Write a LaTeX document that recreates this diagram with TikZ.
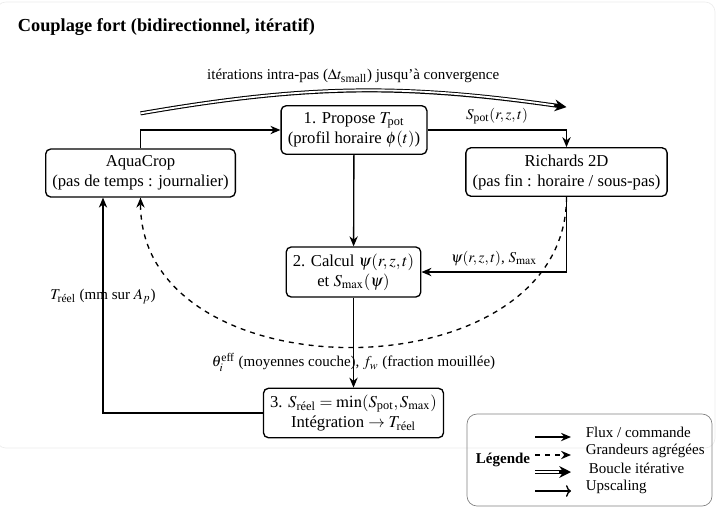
\documentclass[tikz,border=0pt]{standalone}
\usepackage{amsmath}
\usepackage{mathptmx}
\usepackage{fontspec}
\setmainfont{Liberation Serif}
\usetikzlibrary{arrows.meta, positioning}
\tikzset{
box/.style={draw, thick, rounded corners=3pt, align=center, inner sep=4pt}, % the two models and the three steps
lbl/.style={font=\small}, % text on the connectors and in the legend
flux/.style={thick, -{Stealth[length=6pt,width=5pt]}}, % plain flow / command
agg/.style={thick, dashed, -{Stealth[length=6pt,width=5pt]}}, % aggregated quantities
boucle/.style={line width=2.4pt, -{Stealth[length=7pt,width=7pt]}, postaction={draw=white, line width=1.1pt, -, shorten >=7.5pt}}, % iterative loop: a wide line with a white core looks double
upsc/.style={thick, -{To[length=3pt,width=7pt]}}, % upscaling
}

\begin{document}
\begin{tikzpicture}[x=0.6pt, y=-0.6pt]
    %% page size and the light frame round the figure
    \useasboundingbox (0,0) rectangle (719,511);
    \draw[gray!15, rounded corners=6pt] (-4,2) rectangle (715,448);
    \node[anchor=west, font=\fontsize{11}{13}\selectfont\bfseries] (titre) at (12,27) {Couplage fort (bidirectionnel, itératif)};

    %% the models and the steps
    \node[box] (aqua) at (140.5,173) {AquaCrop\\(pas de temps : journalier)};
    \node[box] (propose) at (354,130) {1. Propose $T_{\text{pot}}$\\(profil horaire $\phi(t)$)};
    \node[box] (richards) at (566.5,172) {Richards 2D\\(pas fin : horaire / sous-pas)};
    \node[box] (calcul) at (353.5,272) {2. Calcul $\psi(r,z,t)$\\et $S_{\max}(\psi)$};
    \node[box] (integ) at (353.5,413) {3. $S_{\text{réel}}=\min(S_{\text{pot}},S_{\max})$\\Intégration $\rightarrow T_{\text{réel}}$};

    %% connectors
    \draw[flux] (aqua.north) |- (propose.west);
    \draw[flux] (propose.east) -| node[lbl, pos=0.25, above] {$S_{\text{pot}}(r,z,t)$} (richards.north);
    \draw[flux] (propose) -- (calcul);
    \draw[flux] (richards.south) |- node[lbl, pos=0.75, above] {$\psi(r,z,t)$, $S_{\max}$} (calcul.east);
    \draw[flux] (calcul) -- node[lbl, pos=0.72] {$\theta_i^{\text{eff}}$ (moyennes couche), $f_w$ (fraction mouillée)} (integ);
    \draw[flux] (integ.west) -| node[lbl, pos=0.77] {$T_{\text{réel}}$ (mm sur $A_p$)} ([xshift=-22.5pt]aqua.south);
    \draw[agg] (richards.south) to[out=-90, in=-90, looseness=1.2] (aqua.south);

    %% iterative loop over the top
    \coordinate (boucleA) at ([yshift=21pt]aqua.north);
    \coordinate (boucleB) at ([yshift=24pt]richards.north);
    \draw[boucle] (boucleA) to[bend left=9] node[lbl, above] {itérations intra-pas ($\Delta t_{\text{small}}$) jusqu'à convergence} (boucleB);

    %% legend
    \draw[gray, rounded corners=6pt] (467,414) rectangle (712,506);
    \node[font=\small\bfseries] (legende) at (503,460) {Légende};
    \coordinate (fluxA) at (535,437); \coordinate (fluxB) at (571,437);
    \coordinate (aggA) at (535,455); \coordinate (aggB) at (571,455);
    \coordinate (boucleC) at (535,472); \coordinate (boucleD) at (571,472);
    \coordinate (upscA) at (535,491); \coordinate (upscB) at (571,491);
    \draw[flux] (fluxA) -- (fluxB);
    \draw[agg] (aggA) -- (aggB);
    \draw[boucle] (boucleC) -- (boucleD);
    \draw[upsc] (upscA) -- (upscB);
    \node[lbl, anchor=west] (tflux) at (580,432) {Flux / commande};
    \node[lbl, anchor=west] (tagg) at (580,451) {Grandeurs agrégées};
    \node[lbl, anchor=west] (tboucle) at (583,468) {Boucle itérative};
    \node[lbl, anchor=west] (tupsc) at (580,487) {Upscaling};
\end{tikzpicture}
\end{document}
